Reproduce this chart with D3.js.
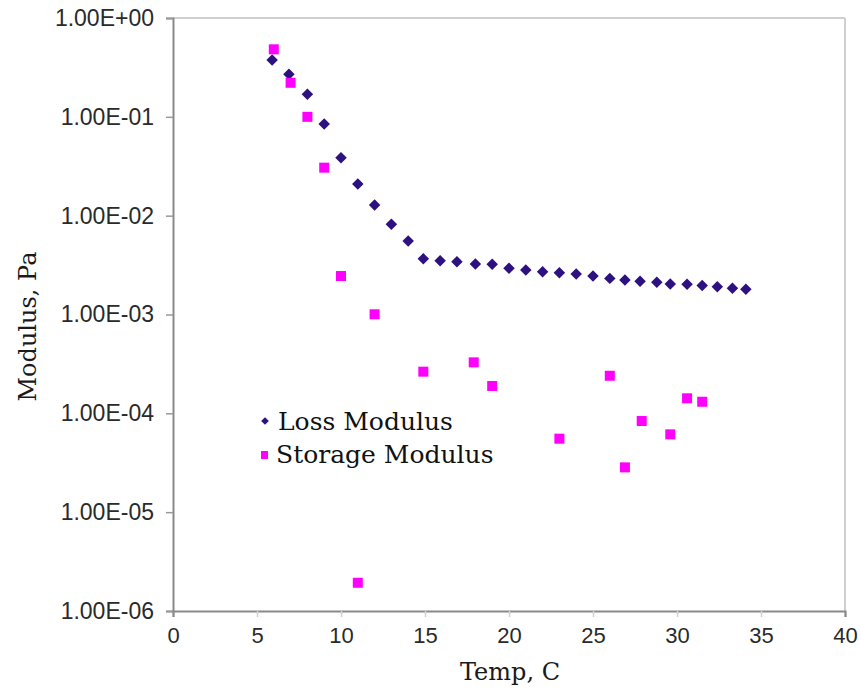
<!DOCTYPE html>
<html>
<head>
<meta charset="utf-8">
<script src="https://cdn.jsdelivr.net/npm/d3@7"></script>
<style>
  html, body { margin: 0; padding: 0; background: #ffffff; }
  svg { display: block; }
</style>
</head>
<body>
<script>
// ---- data ----
const lossTemp = [5.9, 6.9, 8, 9, 10, 11, 12, 13, 14, 14.9, 15.9, 16.9, 18, 19, 20, 21, 22, 23, 24, 25, 26, 26.9, 27.8, 28.8, 29.6, 30.6, 31.5, 32.4, 33.3, 34.1];
const lossModulus = [0.376, 0.269, 0.169, 0.0846, 0.0386, 0.0209, 0.0128, 0.00818, 0.00554, 0.00366, 0.00350, 0.00342, 0.00324, 0.00322, 0.00293, 0.00282, 0.00271, 0.00265, 0.00257, 0.00245, 0.00232, 0.00223, 0.00217, 0.00212, 0.00204, 0.00202, 0.00196, 0.00191, 0.00184, 0.00180];
const storageTemp = [6, 7, 8, 9, 10, 11, 12, 14.9, 17.9, 19, 23, 26, 26.9, 27.9, 29.6, 30.6, 31.5];
const storageModulus = [0.482, 0.221, 0.100, 0.0306, 0.00245, 1.93e-6, 0.001005, 2.64e-4, 3.28e-4, 1.89e-4, 5.54e-5, 2.40e-4, 2.84e-5, 8.36e-5, 6.13e-5, 1.42e-4, 1.31e-4];
const xTicks = [0, 5, 10, 15, 20, 25, 30, 35, 40];
const yTicks = [1e0, 1e-1, 1e-2, 1e-3, 1e-4, 1e-5, 1e-6];
const seriesNames = ["Loss Modulus", "Storage Modulus"];
const xTitle = "Temp, C";
const yTitle = "Modulus, Pa";

// ---- layout ----
const W = 861, H = 691;
const pL = 173, pR = 845, pT = 18, pB = 611;

const svg = d3.select("body").append("svg").attr("width", W).attr("height", H);

const x = d3.scaleLinear().domain([0, 40]).range([pL, pR]);
const y = d3.scaleLog().domain([1e-6, 1]).range([pB, pT]);

const fmt = v => {
  const e = Math.round(Math.log10(v));
  return "1.00E" + (e < 0 ? "-" : "+") + String(Math.abs(e)).padStart(2, "0");
};

// plot frame (top & right light)
svg.append("line").attr("x1", pL).attr("x2", pR).attr("y1", pT).attr("y2", pT)
  .attr("stroke", "#cfcfcf").attr("stroke-width", 2);
svg.append("line").attr("x1", pR).attr("x2", pR).attr("y1", pT).attr("y2", pB)
  .attr("stroke", "#cfcfcf").attr("stroke-width", 2);

// y axis
const yAxis = d3.axisLeft(y).tickValues(yTicks).tickFormat(fmt).tickSize(7).tickPadding(12);
const gy = svg.append("g").attr("transform", `translate(${pL},0)`).call(yAxis);
gy.select(".domain").attr("stroke", "#8a8a8a").attr("stroke-width", 2);
gy.selectAll(".tick line").attr("stroke", "#9a9a9a").attr("stroke-width", 1.5);
gy.selectAll(".tick text").attr("font-family", "'Liberation Sans', Arial, sans-serif")
  .attr("font-size", 23).attr("fill", "#2a2a2a");

// x axis
const xAxis = d3.axisBottom(x).tickValues(xTicks).tickFormat(d3.format("d")).tickSize(6).tickPadding(10);
const gx = svg.append("g").attr("transform", `translate(0,${pB})`).call(xAxis);
gx.select(".domain").attr("stroke", "#8a8a8a").attr("stroke-width", 2);
gx.selectAll(".tick line").attr("stroke", d => (d === 0 || d === 40) ? "#8a8a8a" : "#d0d0d0").attr("stroke-width", 1.5);
gx.selectAll(".tick text").attr("font-family", "'Liberation Sans', Arial, sans-serif")
  .attr("font-size", 22).attr("fill", "#2a2a2a");

// axis titles
svg.append("text").attr("x", (pL + pR) / 2 + 1).attr("y", 680)
  .attr("text-anchor", "middle").attr("font-family", "'DejaVu Serif', serif")
  .attr("font-size", 24).attr("fill", "#1a1a1a").text(xTitle);
svg.append("text").attr("transform", `translate(36,${(pT + pB) / 2 + 12}) rotate(-90)`)
  .attr("text-anchor", "middle").attr("font-family", "'DejaVu Serif', serif")
  .attr("font-size", 24).attr("fill", "#1a1a1a").text(yTitle);

// markers
const lossColor = "#2e1180";
const storColor = "#ff00ff";

const lossData = lossTemp.map((t, i) => ({ t, v: lossModulus[i] }));
const storData = storageTemp.map((t, i) => ({ t, v: storageModulus[i] }));

svg.append("g").selectAll("path").data(lossData).join("path")
  .attr("d", d3.symbol().type(d3.symbolSquare).size(66)())
  .attr("transform", d => `translate(${x(d.t)},${y(d.v)}) rotate(45)`)
  .attr("fill", lossColor);

svg.append("g").selectAll("rect").data(storData).join("rect")
  .attr("x", d => x(d.t) - 5).attr("y", d => y(d.v) - 5)
  .attr("width", 10).attr("height", 10).attr("fill", storColor);

// legend
const lg = svg.append("g");
lg.append("path").attr("d", d3.symbol().type(d3.symbolSquare).size(30)())
  .attr("transform", "translate(265,421) rotate(45)").attr("fill", lossColor);
lg.append("rect").attr("x", 261).attr("y", 451).attr("width", 7).attr("height", 8).attr("fill", storColor);
lg.append("text").attr("x", 278).attr("y", 430).attr("font-family", "'DejaVu Serif', serif")
  .attr("font-size", 25).attr("fill", "#111").text(seriesNames[0]);
lg.append("text").attr("x", 276).attr("y", 463).attr("font-family", "'DejaVu Serif', serif")
  .attr("font-size", 25).attr("fill", "#111").text(seriesNames[1]);
</script>
</body>
</html>
